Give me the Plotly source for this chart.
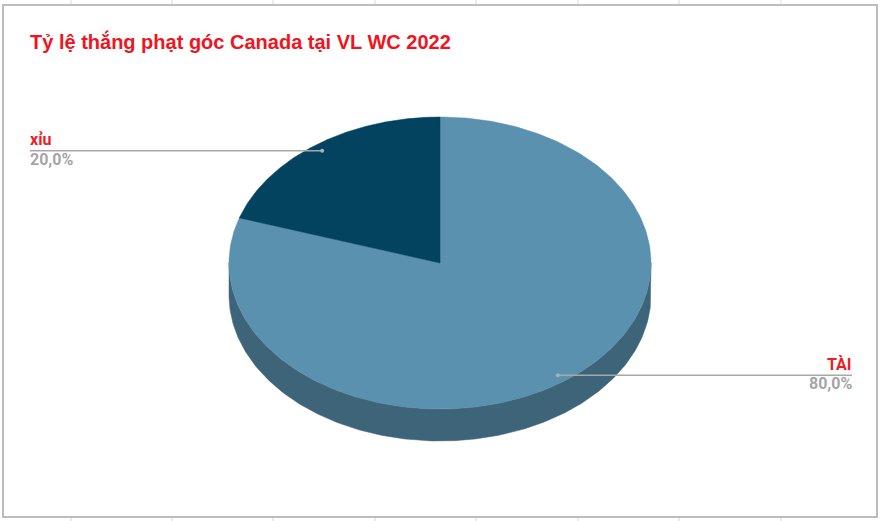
import numpy as np
import plotly.graph_objects as go

# ---- data ----
labels = ["TÀI", "xỉu"]
values = [80, 20]
title_text = "Tỷ lệ thắng phạt góc Canada tại VL WC 2022"

# ---- style ----
top_colors = ["#5A91AE", "#03435F"]
side_colors = ["#3E6479", "#022F43"]
W, H = 882, 521
cx, cy, rx, ry, depth = 440, 263, 211, 146, 32
label_red = "#EE1C25"
pct_gray = "#A5A5A5"
line_gray = "#A8A8A8"

total = float(sum(values))
fracs = [v / total for v in values]


def ell(angles_deg, dy=0.0, k=1.0):
    a = np.radians(angles_deg)
    return cx + k * rx * np.cos(a), cy - k * ry * np.sin(a) + dy


fig = go.Figure()

# slice angle ranges (clockwise from top)
ranges = []
cum = 0.0
for f in fracs:
    a0 = 90 - 360 * cum
    a1 = a0 - 360 * f
    ranges.append((a1, a0))
    cum += f

# sides (visible front half)
for (a1, a0), sc in zip(ranges, side_colors):
    for k in range(-2, 3):
        lo = max(a1, -180 + 360 * k)
        hi = min(a0, 360 * k)
        if hi > lo:
            t = np.linspace(lo, hi, 200)
            xt, yt = ell(t)
            xb, yb = ell(t[::-1], dy=depth)
            fig.add_trace(go.Scatter(
                x=np.concatenate([xt, xb, xt[:1]]),
                y=np.concatenate([yt, yb, yt[:1]]),
                mode="lines", fill="toself", fillcolor=sc,
                line=dict(color=sc, width=0.5), hoverinfo="skip", showlegend=False))

# top faces
for (a1, a0), tc, lab in zip(ranges, top_colors, labels):
    t = np.linspace(a0, a1, 300)
    xa, ya = ell(t)
    fig.add_trace(go.Scatter(
        x=np.concatenate([[cx], xa, [cx]]),
        y=np.concatenate([[cy], ya, [cy]]),
        mode="lines", fill="toself", fillcolor=tc,
        line=dict(color=tc, width=0.5), name=lab, hoverinfo="skip", showlegend=False))

# leader lines and labels
annotations = []
for (a1, a0), lab, v, f in zip(ranges, labels, values, fracs):
    m = (a0 + a1) / 2
    px, py = ell(np.array([m]), k=0.95)
    px, py = float(px[0]), float(py[0])
    left = np.cos(np.radians(m)) < 0
    ex = 30 if left else 852
    fig.add_trace(go.Scatter(x=[px, ex], y=[py, py], mode="lines",
                             line=dict(color=line_gray, width=1.5),
                             hoverinfo="skip", showlegend=False))
    fig.add_trace(go.Scatter(x=[px], y=[py], mode="markers",
                             marker=dict(color="#9FB3BF", size=4),
                             hoverinfo="skip", showlegend=False))
    anchor = "left" if left else "right"
    pct = f"{f * 100:.1f}".replace(".", ",") + "%"
    annotations.append(dict(x=ex, y=py - 0.5, xref="x", yref="y", text=f"<b>{lab}</b>",
                            showarrow=False, xanchor=anchor, yanchor="bottom",
                            xshift=(-2 if left else 2), yshift=-1,
                            font=dict(family="Roboto, Arial, sans-serif", size=16, color=label_red)))
    annotations.append(dict(x=ex, y=py, xref="x", yref="y", text=f"<b>{pct}</b>",
                            showarrow=False, xanchor=anchor, yanchor="top",
                            xshift=(-2 if left else 2), yshift=3,
                            font=dict(family="Roboto, Arial, sans-serif", size=16, color=pct_gray)))

annotations.append(dict(x=28, y=41, xref="x", yref="y", text=f"<b>{title_text}</b>",
                        showarrow=False, xanchor="left", yanchor="middle",
                        font=dict(family="Liberation Sans, Arial, sans-serif", size=20, color="#F0141E")))

shapes = [dict(type="rect", xref="x", yref="y", x0=3, y0=5, x1=877, y1=517,
               line=dict(color="#BDBDBD", width=2), layer="above")]
for gx in [71, 172, 273, 375, 476, 578, 679, 781]:
    shapes.append(dict(type="line", xref="x", yref="y", x0=gx, x1=gx, y0=518, y1=521,
                       line=dict(color="#D9D9D9", width=1)))
    shapes.append(dict(type="line", xref="x", yref="y", x0=gx, x1=gx, y0=0, y1=4,
                       line=dict(color="#D9D9D9", width=1)))

fig.update_layout(
    width=W, height=H,
    margin=dict(l=0, r=0, t=0, b=0),
    paper_bgcolor="white", plot_bgcolor="white",
    xaxis=dict(range=[0, W], visible=False, fixedrange=True),
    yaxis=dict(range=[H, 0], visible=False, fixedrange=True),
    annotations=annotations, shapes=shapes,
    showlegend=False,
    hovermode=False,
)

fig.write_html("out.html",
               config={"displayModeBar": False, "staticPlot": True},
               post_script="document.body.style.margin='0px';document.body.style.overflow='hidden';")
